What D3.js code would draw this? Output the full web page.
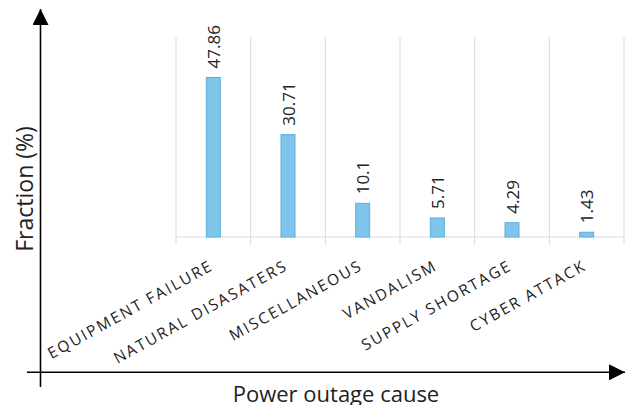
<!DOCTYPE html>
<html>
<head>
<meta charset="utf-8">
<script src="https://cdn.jsdelivr.net/npm/d3@7"></script>
<style>
  html, body { margin: 0; padding: 0; background: #fff; }
  svg { display: block; }
  text { font-family: "Open Sans", sans-serif; fill: #222; }
</style>
</head>
<body>
<svg id="chart" width="625" height="405"></svg>
<script>
const categories = ["EQUIPMENT FAILURE", "NATURAL DISASATERS", "MISCELLANEOUS", "VANDALISM", "SUPPLY SHORTAGE", "CYBER ATTACK"];
const values = [47.86, 30.71, 10.1, 5.71, 4.29, 1.43];
const valueLabels = ["47.86", "30.71", "10.1", "5.71", "4.29", "1.43"];
const yDomain = [0, 60];

const svg = d3.select("#chart");

const plot = { left: 176, right: 624, top: 37, bottom: 237 };

const x = d3.scaleBand().domain(categories).range([plot.left, plot.right]).paddingInner(0).paddingOuter(0);
const y = d3.scaleLinear().domain(yDomain).range([plot.bottom, plot.top]);

// gridlines at band boundaries (extending below baseline as tick marks)
const boundaries = categories.map(c => x(c)).concat([x(categories[categories.length - 1]) + x.bandwidth()]);
svg.append("g").selectAll("line").data(boundaries).join("line")
  .attr("x1", d => d).attr("x2", d => d)
  .attr("y1", plot.top).attr("y2", plot.bottom + 8)
  .attr("stroke", "#d9d9d9").attr("stroke-width", 1);

// baseline
svg.append("line")
  .attr("x1", plot.left).attr("x2", plot.right)
  .attr("y1", plot.bottom).attr("y2", plot.bottom)
  .attr("stroke", "#d9d9d9").attr("stroke-width", 1);

const barW = 14;
const data = categories.map((c, i) => ({ c, v: values[i], label: valueLabels[i] }));

svg.append("g").selectAll("rect").data(data).join("rect")
  .attr("x", d => x(d.c) + x.bandwidth() / 2 - barW / 2)
  .attr("y", d => y(d.v))
  .attr("width", barW)
  .attr("height", d => y(0) - y(d.v))
  .attr("fill", "#7fc4ea")
  .attr("stroke", "#5aaedc")
  .attr("stroke-width", 1);

// value labels (rotated)
svg.append("g").selectAll("text").data(data).join("text")
  .attr("transform", d => `translate(${x(d.c) + x.bandwidth() / 2 + 6.5},${y(d.v) - 9}) rotate(-90)`)
  .attr("text-anchor", "start")
  .style("font-size", "17px")
  .text(d => d.label);

// category labels (rotated)
svg.append("g").selectAll("text").data(data).join("text")
  .attr("transform", d => `translate(${x(d.c) + x.bandwidth() / 2 + 1},${plot.bottom + 32}) rotate(-29)`)
  .attr("text-anchor", "end")
  .style("font-size", "15.5px")
  .style("letter-spacing", "2px")
  .text(d => d.c);

// axes with arrows
svg.append("defs").append("marker")
  .attr("id", "arrow").attr("viewBox", "0 0 10 10")
  .attr("refX", 10).attr("refY", 5)
  .attr("markerWidth", 16).attr("markerHeight", 16)
  .attr("markerUnits", "userSpaceOnUse")
  .attr("orient", "auto")
  .append("path").attr("d", "M0,0 L10,5 L0,10 Z").attr("fill", "#000");

svg.append("line")
  .attr("x1", 40.5).attr("x2", 40.5)
  .attr("y1", 387).attr("y2", 9)
  .attr("stroke", "#000").attr("stroke-width", 1.6)
  .attr("marker-end", "url(#arrow)");

svg.append("line")
  .attr("x1", 27).attr("x2", 625)
  .attr("y1", 372.3).attr("y2", 372.3)
  .attr("stroke", "#000").attr("stroke-width", 1.6)
  .attr("marker-end", "url(#arrow)");

// axis titles
svg.append("text")
  .attr("x", 336).attr("y", 402)
  .attr("text-anchor", "middle")
  .style("font-size", "22px")
  .text("Power outage cause");

svg.append("text")
  .attr("transform", "translate(33,189) rotate(-90)")
  .attr("text-anchor", "middle")
  .style("font-size", "23px")
  .text("Fraction (%)");
</script>
</body>
</html>
